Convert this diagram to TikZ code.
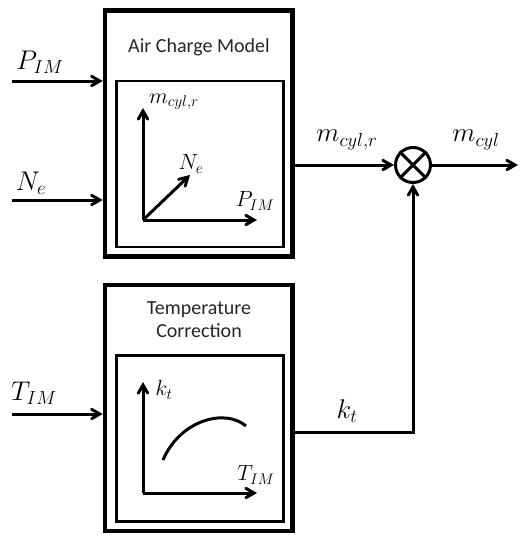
\RequirePackage{fix-cm}
\documentclass[tikz,border=0pt]{standalone}
\usepackage{amsmath}
\usepackage{fontspec}
\newfontfamily\calibri{Carlito}
\usepackage{tikz}
\usetikzlibrary{arrows,positioning,calc}

\begin{document}
\begin{tikzpicture}[x=1pt, y=-1pt, node distance=274.5pt]
\tikzstyle{block} = [rectangle, draw=black, line width=4.5pt, minimum width=187.5pt, minimum height=246pt]
\tikzstyle{map} = [rectangle, draw=black, line width=2.5pt, minimum width=167pt, minimum height=166pt]
\tikzstyle{title} = [font=\calibri\fontsize{20}{23}\selectfont, text=black!85, align=center]
\tikzstyle{signal} = [font=\fontsize{27}{30}\selectfont]
\tikzstyle{axlabel} = [font=\fontsize{22}{26}\selectfont]
\tikzstyle{arrow} = [line width=3pt, ->, >=angle 60]

\useasboundingbox (0,0) rectangle (519,535);

% blocks
\node (acm) [block] at (198.75,133.5) {};
\node (tc) [block, below of=acm] {};
\node (acmmap) [map] at (200,164) {};
\node (tcmap) [map, below of=acmmap] {};
\node (acmtitle) [title] at (199,47) {Air Charge Model};
\node (tctitle) [title] at (199,319.5) {Temperature\\Correction};

% inputs
\coordinate (pin) at (12,81);
\coordinate (nin) at (12,200);
\coordinate (tin) at (12,414);
\node (pimlabel) [signal] at (40,62) {$P_{IM}$};
\node (nelabel) [signal] at (31,183) {$N_e$};
\node (timlabel) [signal] at (34,393) {$T_{IM}$};
\draw [arrow] (pin) -- (pin -| acm.west);
\draw [arrow] (nin) -- (nin -| acm.west);
\draw [arrow] (tin) -- (tin -| tc.west);

% air charge map
\coordinate (o1) at (143,220);
\coordinate (y1) at (143,108);
\coordinate (x1) at (257,220);
\coordinate (z1) at (190,175);
\draw [arrow] (o1) -- (y1);
\draw [arrow] (o1) -- (x1);
\draw [arrow] (o1) -- (z1);
\node (mcylrax) [axlabel] at (174,102) {$m_{cyl,r}$};
\node (neax) [axlabel] at (191,164) {$N_e$};
\node (pimax) [axlabel] at (255,201) {$P_{IM}$};

% temperature map
\coordinate (o2) at (143,493);
\coordinate (y2) at (143,382);
\coordinate (x2) at (257,493);
\draw [arrow] (o2) -- (y2);
\draw [arrow] (o2) -- (x2);
\draw [line width=3pt] (163,460) .. controls (180,420) and (225,408) .. (246,426);
\node (ktax) [axlabel] at (164,390) {$k_t$};
\node (timax) [axlabel] at (256,475) {$T_{IM}$};

% product
\node (mult) [circle, draw=black, line width=3pt, minimum size=35pt] at (413,165) {};
\draw [line width=3pt] (mult.north west) -- (mult.south east);
\draw [line width=3pt] (mult.north east) -- (mult.south west);
\coordinate (mout) at (518,165);
\coordinate (kcorner) at (413,432);
\draw [arrow] (mult -| acm.east) -- (mult);
\draw [arrow] (mult) -- (mout);
\draw [arrow] (kcorner -| tc.east) -- (kcorner) -- (mult);
\node (mcylr) [signal] at (347,140) {$m_{cyl,r}$};
\node (mcyl) [signal] at (476,140) {$m_{cyl}$};
\node (kt) [signal] at (347,411) {$k_t$};
\end{tikzpicture}
\end{document}
